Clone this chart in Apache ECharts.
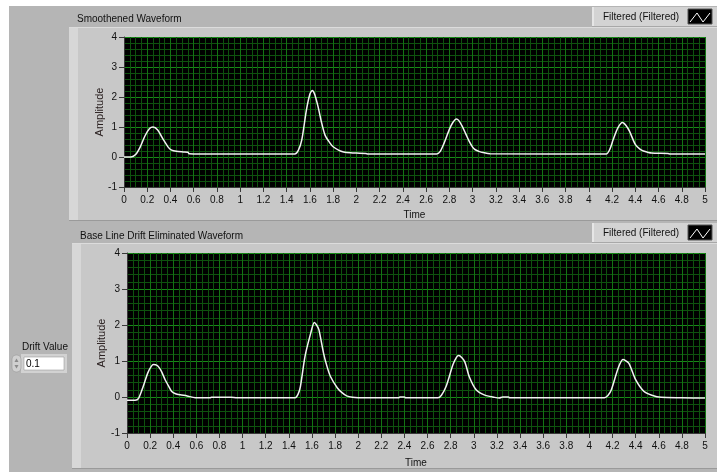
<!DOCTYPE html>
<html>
<head>
<meta charset="utf-8">
<script src="https://cdn.jsdelivr.net/npm/echarts@6/dist/echarts.min.js"></script>
<style>
html,body{margin:0;padding:0;background:#fff;}
#chart{width:717px;height:474px;}
</style>
</head>
<body>
<div id="chart"></div>
<script>
// ---- data ----
const topTitle = 'Smoothened Waveform';
const bottomTitle = 'Base Line Drift Eliminated Waveform';
const legendLabel = 'Filtered (Filtered)';
const xName = 'Time';
const yName = 'Amplitude';
const driftLabel = 'Drift Value';
const driftValue = '0.1';

const xMin = 0, xMax = 5, xStep = 0.2;
const yMin = -1, yMax = 4, yStep = 1;

// Smoothened waveform
const topTime = [0,0.06,0.1,0.14,0.18,0.22,0.25,0.29,0.34,0.38,0.41,0.45,0.51,0.55,0.56,0.8,1.2,1.47,1.5,1.53,1.57,1.6,1.62,1.64,1.67,1.7,1.73,1.77,1.8,1.85,1.89,1.95,2.0,2.08,2.1,2.69,2.72,2.75,2.8,2.83,2.86,2.88,2.91,2.94,2.97,3.0,3.02,3.06,3.09,3.15,4.15,4.18,4.21,4.25,4.29,4.32,4.35,4.4,4.44,4.47,4.54,4.68,4.7,5];
const topAmp  = [0,0,0.08,0.34,0.7,0.95,1.0,0.9,0.57,0.33,0.23,0.19,0.17,0.16,0.11,0.1,0.1,0.1,0.22,0.57,1.57,2.1,2.22,2.1,1.68,1.15,0.73,0.48,0.34,0.22,0.17,0.14,0.13,0.12,0.1,0.1,0.18,0.42,0.92,1.15,1.27,1.22,1.03,0.78,0.53,0.33,0.25,0.18,0.15,0.11,0.1,0.25,0.58,0.97,1.15,1.05,0.86,0.42,0.26,0.2,0.13,0.12,0.1,0.1];

// Base line drift eliminated waveform
const botTime = [0,0.07,0.1,0.14,0.18,0.21,0.23,0.26,0.28,0.3,0.33,0.36,0.385,0.42,0.46,0.52,0.59,0.72,0.73,0.9,0.95,1.455,1.48,1.5,1.54,1.59,1.62,1.64,1.66,1.7,1.73,1.76,1.82,1.86,1.9,1.95,2.0,2.35,2.36,2.4,2.41,2.69,2.72,2.76,2.82,2.85,2.87,2.92,2.96,3.02,3.09,3.18,3.22,3.25,3.3,3.31,4.13,4.16,4.19,4.25,4.29,4.34,4.4,4.47,4.54,4.62,4.8,5];
const botAmp  = [-0.09,-0.09,-0.04,0.29,0.67,0.85,0.9,0.88,0.81,0.7,0.48,0.3,0.16,0.09,0.06,0.03,-0.02,-0.02,-0.01,-0.01,-0.02,-0.02,0.08,0.29,1.13,1.78,2.07,2.0,1.87,1.22,0.85,0.57,0.25,0.12,0.03,-0.01,-0.02,-0.02,0.0,0.0,-0.02,-0.02,0.05,0.29,0.9,1.1,1.15,0.99,0.57,0.2,0.06,-0.01,-0.03,0.0,0.0,-0.02,-0.02,0.04,0.2,0.81,1.04,0.94,0.48,0.16,0.05,-0.01,-0.02,-0.03];

// ---- chart ----
const FONT = 'Liberation Sans';
const TXT = '#111111';
const chart = echarts.init(document.getElementById('chart'), null, {renderer:'canvas'});

function xAxisCfg(gi, gap){
  return {
    gridIndex: gi, type:'value', min:xMin, max:xMax, interval:xStep,
    name:xName, nameLocation:'middle', nameGap:gap, nameMoveOverlap:false,
    nameTextStyle:{fontFamily:FONT, fontSize:10, color:TXT},
    axisLine:{show:true, onZero:false, lineStyle:{color:'#3a3a3a', width:1}},
    axisTick:{show:true, length:5, lineStyle:{color:'#3a3a3a'}},
    axisLabel:{margin:8, fontFamily:FONT, fontSize:10, color:TXT},
    splitLine:{show:true, lineStyle:{color:'#137313', width:1}},
    minorTick:{show:false, splitNumber:4},
    minorSplitLine:{show:true, lineStyle:{color:'#0e520e', width:1}}
  };
}
function yAxisCfg(gi, gap){
  return {
    gridIndex: gi, type:'value', min:yMin, max:yMax, interval:yStep,
    name:yName, nameLocation:'middle', nameGap:gap, nameRotate:90, nameMoveOverlap:false,
    nameTextStyle:{fontFamily:FONT, fontSize:11, color:'#2a2020'},
    axisLine:{show:true, onZero:false, lineStyle:{color:'#3a3a3a', width:1}},
    axisTick:{show:true, length:5, lineStyle:{color:'#3a3a3a'}},
    axisLabel:{margin:7, fontFamily:FONT, fontSize:10, color:TXT},
    splitLine:{show:true, lineStyle:{color:'#178a17', width:1}},
    minorTick:{show:false, splitNumber:5},
    minorSplitLine:{show:true, lineStyle:{color:'#0e520e', width:1}}
  };
}
function zip(a,b){ return a.map((v,i)=>[v,b[i]]); }

function legendBox(y){
  return [
    {type:'rect', z:-5, shape:{x:592,y:y,width:125,height:20}, style:{fill:'#d3d3d3'}},
    {type:'rect', z:-5, shape:{x:592,y:y,width:2,height:20}, style:{fill:'#e6e6e6'}},
    {type:'rect', z:-5, shape:{x:592,y:y+19,width:125,height:1}, style:{fill:'#a8a8a8'}},
    {type:'text', z:10, style:{x:603, y:y+10, text:legendLabel, fontFamily:FONT, fontSize:10, fill:TXT, verticalAlign:'middle'}},
    {type:'rect', z:10, shape:{x:688,y:y+2,width:24,height:15}, style:{fill:'#000', stroke:'#555', lineWidth:1}},
    {type:'polyline', z:11, shape:{points:[[690,y+15],[697,y+6],[703,y+15],[710,y+6]]}, style:{stroke:'#fff', lineWidth:1, fill:null}}
  ];
}

const graphics = [
  {type:'rect', z:-10, shape:{x:9,y:6,width:708,height:466}, style:{fill:'#b5b5b5'}},
  // top panel
  {type:'rect', z:-9, shape:{x:69,y:27,width:648,height:194}, style:{fill:'#c8c8c8'}},
  {type:'rect', z:-8, shape:{x:69,y:27,width:9,height:194}, style:{fill:'#d7d7d7'}},
  {type:'rect', z:-8, shape:{x:69,y:27,width:648,height:1}, style:{fill:'#dcdcdc'}},
  {type:'rect', z:-8, shape:{x:69,y:220,width:648,height:1}, style:{fill:'#9a9a9a'}},
  // bottom panel
  {type:'rect', z:-9, shape:{x:72,y:243,width:645,height:226}, style:{fill:'#c8c8c8'}},
  {type:'rect', z:-8, shape:{x:72,y:243,width:9,height:226}, style:{fill:'#d7d7d7'}},
  {type:'rect', z:-8, shape:{x:72,y:243,width:645,height:1}, style:{fill:'#dcdcdc'}},
  {type:'rect', z:-8, shape:{x:72,y:468,width:645,height:1}, style:{fill:'#9a9a9a'}},
  // titles
  {type:'text', z:10, style:{x:77, y:19, text:topTitle, fontFamily:FONT, fontSize:10, fill:TXT, verticalAlign:'middle'}},
  {type:'text', z:10, style:{x:80, y:236, text:bottomTitle, fontFamily:FONT, fontSize:10, fill:TXT, verticalAlign:'middle'}},
  // drift value control
  {type:'text', z:10, style:{x:22, y:347, text:driftLabel, fontFamily:FONT, fontSize:10, fill:TXT, verticalAlign:'middle'}},
  {type:'rect', z:-5, shape:{x:21,y:354,width:46,height:19}, style:{fill:'#d2d2d2'}},
  {type:'rect', z:-4, shape:{x:24,y:357,width:40,height:13}, style:{fill:'#ffffff', stroke:'#8a8a8a', lineWidth:0.5}},
  {type:'text', z:10, style:{x:26, y:364, text:driftValue, fontFamily:FONT, fontSize:10, fill:'#000', verticalAlign:'middle'}},
  {type:'rect', z:-4, shape:{x:12,y:355,width:9,height:17, r:4}, style:{fill:'#d0d0d0', stroke:'#9a9a9a', lineWidth:0.6}},
  {type:'polygon', z:-3, shape:{points:[[14.5,362],[16.5,358.5],[18.5,362]]}, style:{fill:'#8a8a8a'}},
  {type:'polygon', z:-3, shape:{points:[[14.5,365],[16.5,368.5],[18.5,365]]}, style:{fill:'#8a8a8a'}}
].concat(legendBox(7), legendBox(223));

const option = {
  animation:false,
  backgroundColor:'transparent',
  graphic:{elements:graphics},
  grid:[
    {left:124, top:37, width:581, height:150, show:true, backgroundColor:'#000', borderWidth:0, containLabel:false},
    {left:127, top:253, width:578, height:180, show:true, backgroundColor:'#000', borderWidth:0, containLabel:false}
  ],
  xAxis:[xAxisCfg(0,23), xAxisCfg(1,25)],
  yAxis:[yAxisCfg(0,19), yAxisCfg(1,20)],
  series:[
    {name:legendLabel, type:'line', xAxisIndex:0, yAxisIndex:0, data:zip(topTime, topAmp),
     showSymbol:false, smooth:0.25, lineStyle:{color:'#f2f2f2', width:1.5}},
    {name:legendLabel, type:'line', xAxisIndex:1, yAxisIndex:1, data:zip(botTime, botAmp),
     showSymbol:false, smooth:0.25, lineStyle:{color:'#f2f2f2', width:1.5}}
  ]
};
chart.setOption(option);
</script>
</body>
</html>
